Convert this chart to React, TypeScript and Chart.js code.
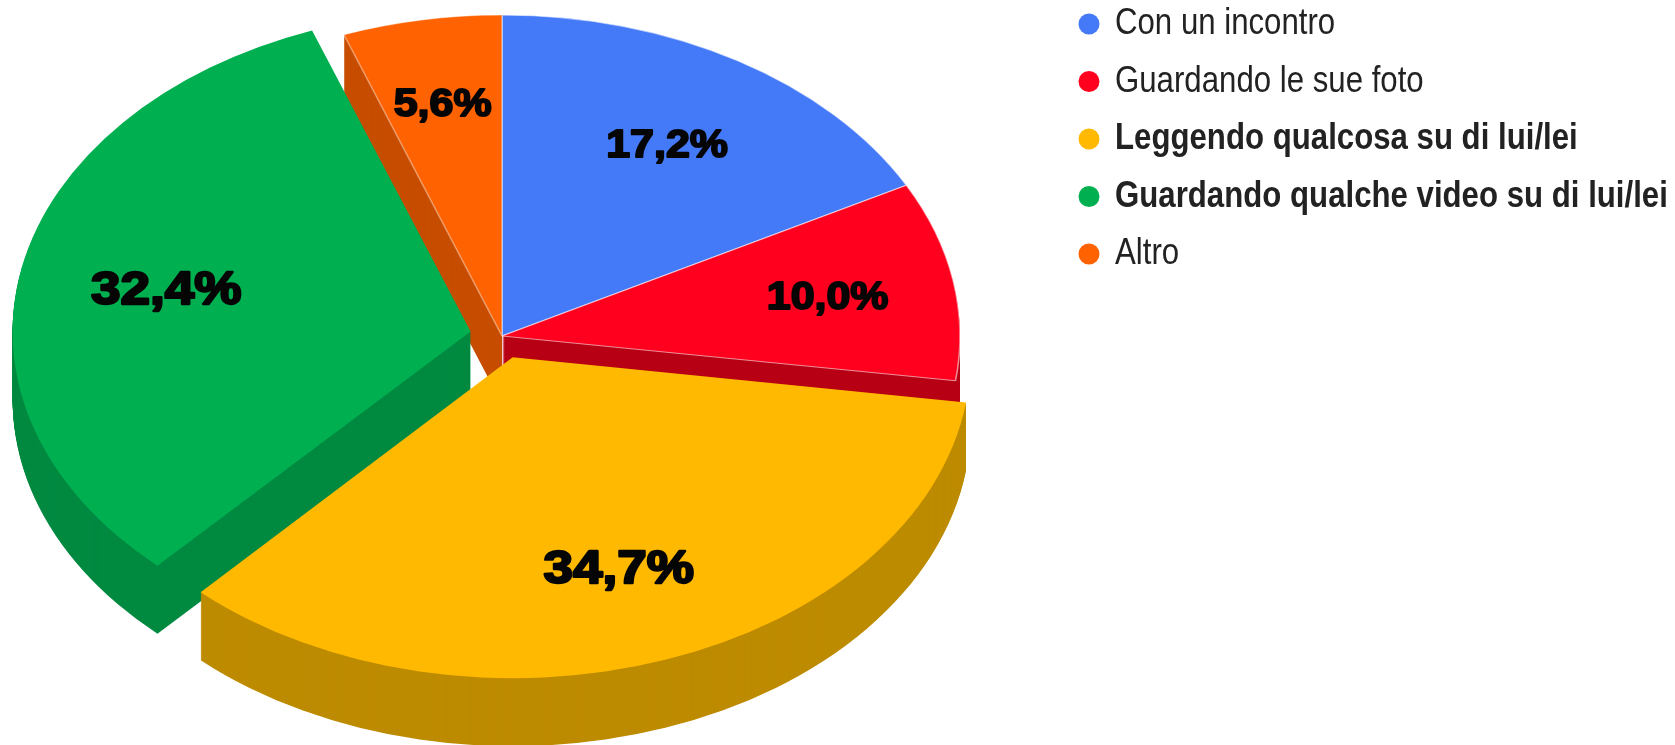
import React, { useEffect, useRef } from "react";
import { Chart, registerables } from "chart.js";

Chart.register(...registerables);

const categories = ["Con un incontro", "Guardando le sue foto", "Leggendo qualcosa su di lui/lei", "Guardando qualche video su di lui/lei", "Altro"];
const values = [17.2, 10.0, 34.7, 32.4, 5.6];
const valueLabels = ["17,2%", "10,0%", "34,7%", "32,4%", "5,6%"];
const topColors = ["#4479f8", "#ff001f", "#ffb900", "#00b050", "#ff6200"];
const wallColors = ["", "#b80015", "#bd8b00", "#008a40", "#c74d00"];
const boldLegend = [false, false, true, true, false];
const explode = [0, 0, 84, 84, 0];
const borderColors = ["rgba(255,255,255,0.55)", "rgba(255,255,255,0.55)", "rgba(0,0,0,0)", "rgba(0,0,0,0)", "rgba(255,255,255,0.4)"];
const borderWidths = [1, 1, 0, 0, 1];
const drawOrder = [0, 4, 1, 3, 2];
const labelFontSizes = [38, 38, 47, 47, 38];
const labelRadii = [0.7, 0.722, 0.695, 0.678, 0.74];

const RADIUS = 300;
const CX = 502;
const CY = 336;
const RX = 458;
const RY = 321;
const DEPTH = 68;
const LABEL_DROP = 3;
const SX = RX / RADIUS;
const SY = RY / RADIUS;

const pie3d = {
  id: "pie3d",
  beforeDatasetsDraw(chart: any) {
    const { ctx } = chart;
    const arcs = chart.getDatasetMeta(0).data;
    const ox = arcs[0].x;
    const oy = arcs[0].y;
    ctx.save();
    ctx.translate(CX, CY);
    ctx.scale(SX, SY);
    ctx.translate(-ox, -oy);
    for (const i of drawOrder) {
      const el = arcs[i];
      const original = el.options;
      // The arc element widens offset slices; keep every slice on one radius.
      const fix = 1 - Math.sin(Math.min(Math.PI, el.circumference));
      const radius = el.outerRadius;
      el.outerRadius = radius - (explode[i] / 4) * fix;
      if (wallColors[i]) {
        el.options = { ...original, backgroundColor: wallColors[i], borderWidth: 0 };
        for (let d = DEPTH; d >= 1; d--) {
          ctx.save();
          ctx.translate(0, d / SY);
          el.draw(ctx);
          ctx.restore();
        }
        el.options = original;
      }
      el.draw(ctx);
      el.outerRadius = radius;
    }
    ctx.restore();
    return false;
  },
  afterDraw(chart: any) {
    const { ctx } = chart;
    const arcs = chart.getDatasetMeta(0).data;
    ctx.save();
    ctx.textBaseline = "middle";
    ctx.textAlign = "center";
    ctx.fillStyle = "#050505";
    ctx.strokeStyle = "#050505";
    ctx.lineJoin = "round";
    arcs.forEach((el: any, i: number) => {
      const mid = (el.startAngle + el.endAngle) / 2;
      const r = explode[i] / 4 + labelRadii[i] * RADIUS;
      const x = CX + Math.cos(mid) * r * SX;
      const y = CY + Math.sin(mid) * r * SY + LABEL_DROP;
      ctx.save();
      ctx.font = `bold ${labelFontSizes[i]}px "Liberation Sans"`;
      ctx.lineWidth = labelFontSizes[i] * 0.05;
      ctx.translate(x, y);
      ctx.scale(1.13, 1);
      ctx.strokeText(valueLabels[i], 0, 0);
      ctx.fillText(valueLabels[i], 0, 0);
      ctx.restore();
    });
    ctx.restore();

    ctx.save();
    ctx.textBaseline = "middle";
    ctx.textAlign = "left";
    categories.forEach((name, i) => {
      const y = 24 + i * 57.5;
      ctx.fillStyle = topColors[i];
      ctx.beginPath();
      ctx.arc(1089, y, 10.5, 0, Math.PI * 2);
      ctx.fill();
      ctx.save();
      ctx.translate(1115, y);
      ctx.scale(0.843, 1);
      ctx.fillStyle = "#222222";
      ctx.font = `${boldLegend[i] ? "bold " : ""}37px "Liberation Sans"`;
      ctx.fillText(name, 0, 0);
      ctx.restore();
    });
    ctx.restore();
  },
};

export default function App() {
  const ref = useRef<HTMLCanvasElement>(null);
  useEffect(() => {
    document.body.style.margin = "0";
    const chart = new Chart(ref.current as HTMLCanvasElement, {
      type: "pie",
      data: {
        labels: categories,
        datasets: [
          {
            data: values,
            backgroundColor: topColors,
            borderColor: borderColors,
            borderWidth: borderWidths,
            offset: explode,
          },
        ],
      },
      options: {
        responsive: false,
        animation: false,
        radius: RADIUS,
        plugins: { legend: { display: false }, tooltip: { enabled: false } },
      },
      plugins: [pie3d],
    } as any);
    return () => chart.destroy();
  }, []);
  return <canvas ref={ref} width={1675} height={745} style={{ display: "block" }} />;
}
